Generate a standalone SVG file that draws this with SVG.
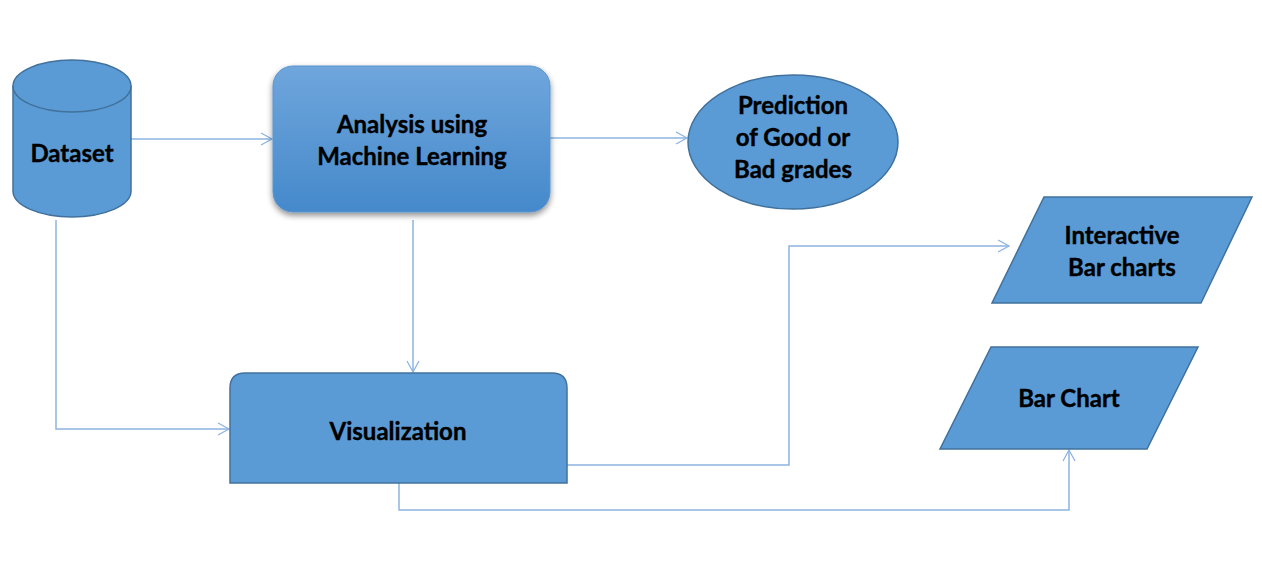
<svg xmlns="http://www.w3.org/2000/svg" width="1262" height="562" viewBox="0 0 1262 562">
<defs>
<linearGradient id="g1" x1="0" y1="0" x2="0" y2="1">
<stop offset="0" stop-color="#6fa6dc"/>
<stop offset="1" stop-color="#4589cb"/>
</linearGradient>
<filter id="sh" x="-10%" y="-10%" width="120%" height="130%">
<feGaussianBlur in="SourceAlpha" stdDeviation="3"/>
<feOffset dx="0" dy="3" result="b"/>
<feComponentTransfer><feFuncA type="linear" slope="0.45"/></feComponentTransfer>
<feMerge><feMergeNode/><feMergeNode in="SourceGraphic"/></feMerge>
</filter>
<marker id="arr" markerWidth="14" markerHeight="14" refX="12" refY="7" orient="auto" markerUnits="userSpaceOnUse">
<path d="M1,1 L12,7 L1,13" fill="none" stroke="#8db4e2" stroke-width="1.3"/>
</marker>
</defs>
<style>
.shape{fill:#5b9bd5;stroke:#41719c;stroke-width:1.5}
.lbl{font-family:Lato,"Liberation Sans",sans-serif;font-weight:bold;font-size:24px;fill:#000;text-anchor:middle;stroke:#000;stroke-width:0.4}
.conn{fill:none;stroke:#8db4e2;stroke-width:1.5}
</style>
<rect width="1262" height="562" fill="#fff"/>
<g id="connectors">
<path class="conn" d="M131,139 L272,139" marker-end="url(#arr)"/>
<path class="conn" d="M550,138 L687,138" marker-end="url(#arr)"/>
<path class="conn" d="M413,220 L413,372" marker-end="url(#arr)"/>
<path class="conn" d="M56,220 L56,429 L229,429" marker-end="url(#arr)"/>
<path class="conn" d="M567,465 L789,465 L789,246 L1009,246" marker-end="url(#arr)"/>
<path class="conn" d="M399,483 L399,510 L1069,510 L1069,450" marker-end="url(#arr)"/>
</g>
<g id="dataset">
<path class="shape" d="M13,86 L13,191 A59,26 0 0 0 131,191 L131,86"/>
<ellipse class="shape" cx="72" cy="86" rx="59" ry="26"/>
<text class="lbl" x="72" y="162">Dataset</text>
</g>
<g id="analysis">
<rect x="273" y="66" width="277" height="146" rx="20" ry="20" fill="url(#g1)" stroke="#5a95cf" stroke-width="1" filter="url(#sh)"/>
<text class="lbl" x="412" y="133">Analysis using</text>
<text class="lbl" x="412" y="165">Machine Learning</text>
</g>
<g id="prediction">
<ellipse class="shape" cx="793" cy="142" rx="105" ry="67"/>
<text class="lbl" x="793" y="114">Prediction</text>
<text class="lbl" x="793" y="146">of Good or</text>
<text class="lbl" x="793" y="178">Bad grades</text>
</g>
<g id="visualization">
<path class="shape" d="M230,483 L230,388 Q230,373 245,373 L552,373 Q567,373 567,388 L567,483 Z"/>
<text class="lbl" x="398" y="440">Visualization</text>
</g>
<g id="interactive">
<polygon class="shape" points="1044,197 1252,197 1201,303 992,303"/>
<text class="lbl" x="1122" y="244">Interactive</text>
<text class="lbl" x="1122" y="276">Bar charts</text>
</g>
<g id="barchart">
<polygon class="shape" points="991,347 1198,347 1147,449 940,449"/>
<text class="lbl" x="1069" y="407">Bar Chart</text>
</g>
</svg>
